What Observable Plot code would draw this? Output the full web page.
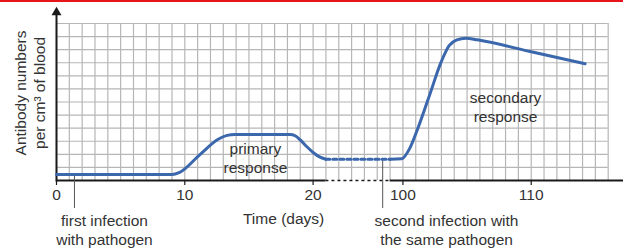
<!DOCTYPE html>
<html>
<head>
<meta charset="utf-8">
<script src="https://cdn.jsdelivr.net/npm/d3@7"></script>
<script src="https://cdn.jsdelivr.net/npm/@observablehq/plot@0.6"></script>
<style>
  body { margin: 0; background: #fff; }
  #chart { position: relative; width: 623px; height: 249px; overflow: hidden; }
  #topbar { position: absolute; left: 0; top: 0; width: 623px; height: 2px; background: #e8141c; }
</style>
</head>
<body>
<div id="chart"><div id="topbar"></div></div>
<script>
// ---- data (time in days, antibody level in grid squares) ----
const primaryDays   = [0, 9.0, 9.6, 11.2, 12.6, 13.3, 13.9, 18.2, 18.6, 19.0, 19.5, 20.05, 20.5, 21];
const primaryLevels = [0.45, 0.45, 0.62, 2.0, 3.15, 3.45, 3.52, 3.52, 3.42, 3.1, 2.6, 2.1, 1.8, 1.63];
const gapDays   = [21, 99];
const gapLevels = [1.63, 1.63];
const secondaryDays   = [99, 99.9, 100.5, 101.1, 102, 103, 103.6, 104.2, 104.9, 105.8, 110, 114.2];
const secondaryLevels = [1.63, 1.66, 2.4, 3.82, 6.3, 9.1, 10.3, 10.75, 10.88, 10.75, 9.84, 8.92];
const tickDays   = [0, 10, 20, 100, 110];
const tickLabels = ["0", "10", "20", "100", "110"];
const firstInfectionDay = 1.4;
const secondInfectionDay = 90;

// ---- broken time axis: days 21..99 squeezed into 5 grid squares ----
const BREAK_START = 21, BREAK_END = 99, BREAK_SQUARES = 5;
function toU(day) {
  if (day <= BREAK_START) return day;
  if (day >= BREAK_END) return day - (BREAK_END - BREAK_START) + BREAK_SQUARES;
  return BREAK_START + (day - BREAK_START) / (BREAK_END - BREAK_START) * BREAK_SQUARES;
}
const zip = (xs, ys) => xs.map((d, i) => ({day: d, level: ys[i]}));
const primary = zip(primaryDays, primaryLevels);
const gap = zip(gapDays, gapLevels);
const secondary = zip(secondaryDays, secondaryLevels);

const blue = "#3b67ad";
const grid = "#b6b6b6";
const ink = "#1a1a1a";
const textColor = "#333";

const chart = Plot.plot({
  width: 623,
  height: 249,
  marginLeft: 56,
  marginRight: 15.3,
  marginTop: 23,
  marginBottom: 69,
  x: {domain: [0, 43], axis: null},
  y: {domain: [0, 12], axis: null},
  style: {fontFamily: "'Liberation Sans', Arial, sans-serif", fontSize: "15.5px", color: textColor, background: "transparent"},
  marks: [
    // grid
    Plot.ruleX(d3.range(0, 44), {y1: 0, y2: 12, stroke: grid, strokeWidth: 1.2}),
    Plot.ruleY(d3.range(1, 13), {x1: 0, x2: 43, stroke: grid, strokeWidth: 1.2}),
    // x axis line (dashed across the break)
    Plot.ruleY([0], {x1: 0, x2: toU(BREAK_START), stroke: ink, strokeWidth: 2}),
    Plot.ruleY([0], {x1: toU(BREAK_START), x2: toU(BREAK_END), stroke: ink, strokeWidth: 1.5, strokeDasharray: "3,3"}),
    Plot.ruleY([0], {x1: toU(BREAK_END), x2: 44.3, stroke: ink, strokeWidth: 2}),
    // y axis with arrow
    Plot.ruleX([0], {y1: -0.12, y2: 12.9, stroke: ink, strokeWidth: 2}),
    Plot.dot([0], {x: 0, y: 12.85, symbol: "triangle", r: 3.7, fill: ink, stroke: null}),
    // ticks and labels
    Plot.ruleX(tickDays, {x: toU, y1: 0, y2: -0.38, stroke: ink, strokeWidth: 1.2}),
    Plot.text(tickDays, {x: toU, y: 0, dy: 15, text: (d, i) => tickLabels[i], fill: textColor, fontSize: 15.5}),
    // infection markers
    Plot.ruleX([firstInfectionDay], {x: toU, y1: 0.42, y2: -2.14, stroke: "#555", strokeWidth: 1}),
    Plot.ruleX([secondInfectionDay], {x: toU, y1: 1.6, y2: -2.14, stroke: "#555", strokeWidth: 1}),
    // antibody curve
    Plot.line(primary, {x: d => toU(d.day), y: "level", stroke: blue, strokeWidth: 3, curve: "monotone-x"}),
    Plot.line(gap, {x: d => toU(d.day), y: "level", stroke: blue, strokeWidth: 3, strokeDasharray: "4,3"}),
    Plot.line(secondary, {x: d => toU(d.day), y: "level", stroke: blue, strokeWidth: 3, curve: "monotone-x"}),
    // labels
    Plot.text(["primary\nresponse"], {x: toU(15.5), y: 1.8, lineHeight: 1.23, fill: textColor, fontSize: 15.5}),
    Plot.text(["secondary\nresponse"], {x: toU(108), y: 5.7, lineHeight: 1.23, fill: textColor, fontSize: 15.5}),
    Plot.text(["first infection\nwith pathogen"], {x: toU(3.74), y: -3.71, lineHeight: 1.23, fill: textColor, fontSize: 15.5}),
    Plot.text(["Time (days)"], {x: toU(17.7), y: -2.98, fill: textColor, fontSize: 15.5}),
    Plot.text(["second infection with\nthe same pathogen"], {x: toU(103.4), y: -3.71, lineHeight: 1.23, fill: textColor, fontSize: 15.5}),
    Plot.text(["Antibody numbers\nper cm³ of blood"], {x: -2.1, y: 6.69, rotate: -90, lineHeight: 1.23, fill: textColor, fontSize: 15.5})
  ]
});
document.getElementById("chart").appendChild(chart);
</script>
</body>
</html>
